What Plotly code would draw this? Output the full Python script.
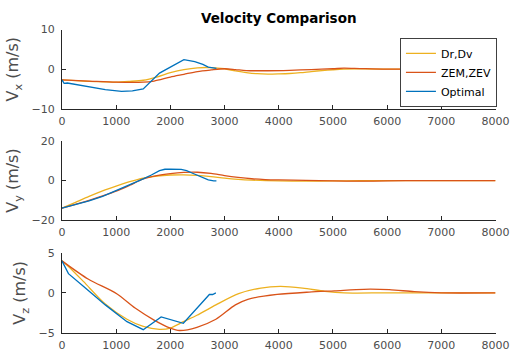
import plotly.graph_objects as go

# ---------------- data ----------------
series_names = ["Dr,Dv", "ZEM,ZEV", "Optimal"]
series_colors = ["#EDB120", "#D95319", "#0072BD"]

# Vx
t_vx_dr = [0, 250, 500, 750, 1000, 1250, 1500, 1750, 2000, 2250, 2500, 2750, 3000, 3200, 3400, 3600,
           3800, 4000, 4200, 4400, 4600, 4800, 5000, 5200, 5500, 6000, 8000]
vx_dr = [-2.7, -2.9, -3.1, -3.2, -3.3, -3.1, -2.8, -2.0, -0.9, -0.1, 0.35, 0.4, 0.1, -0.45, -0.85, -1.15,
         -1.25, -1.2, -1.1, -0.9, -0.6, -0.35, -0.15, 0.0, 0.05, 0.0, 0.0]
t_vx_zem = [0, 500, 1000, 1500, 1700, 2000, 2250, 2500, 2750, 3000, 3200, 3400, 3800, 4200, 4600,
            5000, 5200, 5500, 6000, 8000]
vx_zem = [-2.7, -3.0, -3.3, -3.3, -3.0, -2.0, -1.3, -0.6, -0.2, 0.1, -0.1, -0.35, -0.4, -0.3, -0.1,
          0.1, 0.25, 0.15, 0.0, 0.0]
t_vx_opt = [0, 40, 100, 300, 500, 800, 1100, 1300, 1500, 1650, 1800, 2000, 2250, 2450, 2600, 2700, 2800, 2850]
vx_opt = [-2.7, -3.6, -3.5, -4.0, -4.5, -5.2, -5.6, -5.5, -5.0, -3.0, -1.0, 0.5, 2.4, 1.9, 1.2, 0.5, 0.25, 0.2]

# Vy
t_vy_dr = [0, 250, 500, 750, 1000, 1250, 1500, 1750, 2000, 2250, 2500, 2750, 3000, 3250, 3500, 4000,
           4500, 5000, 5500, 6000, 8000]
vy_dr = [-14, -11, -8.0, -5.2, -2.8, -0.6, 1.2, 2.3, 2.8, 2.9, 2.6, 2.0, 1.2, 0.6, 0.2, -0.2,
         -0.3, -0.2, -0.1, 0.0, 0.0]
t_vy_zem = [0, 250, 500, 750, 1000, 1250, 1500, 1750, 2000, 2250, 2500, 2750, 3000, 3250, 3500, 3750,
            4000, 4500, 5000, 5500, 6000, 6500, 8000]
vy_zem = [-14, -12, -10, -7.8, -5.4, -2.4, 0.8, 2.5, 3.5, 4.1, 4.2, 3.6, 2.5, 1.6, 0.9, 0.5,
          0.3, 0.1, -0.2, -0.3, -0.2, 0.0, 0.0]
t_vy_opt = [0, 250, 500, 750, 1000, 1250, 1500, 1650, 1800, 1900, 2000, 2200, 2300, 2400, 2500, 2600,
            2700, 2800, 2850]
vy_opt = [-14, -12.2, -10.3, -8.0, -5.2, -2.2, 0.8, 2.8, 5.0, 5.7, 5.8, 5.6, 5.0, 3.8, 2.6, 1.4,
          0.3, -0.2, -0.2]

# Vz
t_vz_dr = [0, 120, 400, 800, 1200, 1500, 1800, 2000, 2240, 2490, 2840, 3260, 3670, 4030, 4440, 4850,
           5210, 6000, 8000]
vz_dr = [4.0, 3.3, 1.4, -1.4, -3.3, -4.2, -4.55, -4.4, -3.6, -2.8, -1.5, -0.1, 0.6, 0.8, 0.6, 0.2,
         0.0, 0.0, 0.0]
t_vz_zem = [0, 490, 1010, 1350, 1700, 2000, 2170, 2490, 2840, 3200, 3430, 3970, 4560, 5030, 5570,
            6040, 6500, 7000, 8000]
vz_zem = [4.0, 1.7, -0.1, -1.9, -3.4, -4.4, -4.7, -4.3, -3.3, -1.5, -0.8, -0.2, 0.1, 0.26, 0.45,
          0.4, 0.15, 0.0, 0.0]
t_vz_opt = [0, 120, 400, 800, 1200, 1500, 1830, 2240, 2720, 2780, 2840]
vz_opt = [4.0, 2.4, 0.8, -1.5, -3.6, -4.6, -3.0, -3.8, -0.2, -0.2, 0.0]

x_ticks = [0, 1000, 2000, 3000, 4000, 5000, 6000, 7000, 8000]
y_titles = ["V<sub>x</sub> (m/s)", "V<sub>y</sub> (m/s)", "V<sub>z</sub> (m/s)"]
y_ranges = [[-10, 10], [-20, 20], [-5, 5]]
y_ticks = [[-10, 0, 10], [-20, 0, 20], [-5, 0, 5]]
title_text = "Velocity Comparison"

# ---------------- layout helpers ----------------
W, H = 525, 364
x_dom = [60 / W, 509 / W]
rows_px = [(24.5, 106.5), (140, 222), (256, 339)]

panels = [
    [(t_vx_dr, vx_dr), (t_vx_zem, vx_zem), (t_vx_opt, vx_opt)],
    [(t_vy_dr, vy_dr), (t_vy_zem, vy_zem), (t_vy_opt, vy_opt)],
    [(t_vz_dr, vz_dr), (t_vz_zem, vz_zem), (t_vz_opt, vz_opt)],
]

FONT = "DejaVu Sans"
AX = "#262626"
TXT = "#4d4d4d"

fig = go.Figure()
for r, panel in enumerate(panels):
    xa = "x" if r == 0 else f"x{r+1}"
    ya = "y" if r == 0 else f"y{r+1}"
    for s, (tt, vv) in enumerate(panel):
        fig.add_trace(go.Scatter(
            x=tt, y=vv, mode="lines", name=series_names[s],
            xaxis=xa, yaxis=ya,
            line=dict(color=series_colors[s], width=1.3,
                      shape="linear" if s == 2 else "spline",
                      smoothing=0.8 if s != 2 else None),
            showlegend=(r == 0),
        ))
    top, bot = rows_px[r]
    axis_common = dict(showline=True, linecolor=AX, linewidth=1, ticks="inside",
                       ticklen=4, tickcolor=AX, showgrid=False, zeroline=False,
                       mirror=False, tickfont=dict(family=FONT, size=11, color=TXT))
    fig.layout[("xaxis" if r == 0 else f"xaxis{r+1}")] = dict(
        domain=x_dom, range=[0, 8000], tickvals=x_ticks, anchor=ya,
        ticklabelstandoff=2, **axis_common)
    fig.layout[("yaxis" if r == 0 else f"yaxis{r+1}")] = dict(
        domain=[1 - bot / H, 1 - top / H], range=y_ranges[r], tickvals=y_ticks[r],
        anchor=xa, ticklabelstandoff=4,
        title=dict(text=y_titles[r], standoff=8,
                   font=dict(family=FONT, size=16, color=TXT)),
        **axis_common)

fig.update_layout(
    width=W, height=H, margin=dict(l=0, r=0, t=0, b=0),
    paper_bgcolor="white", plot_bgcolor="white",
    title=dict(text="<b>" + title_text + "</b>", x=284.5 / W, y=1 - 13 / H,
               xanchor="center", yanchor="middle", xref="paper", yref="paper",
               font=dict(family=FONT, size=13.5, color="#000000")),
    legend=dict(x=410 / W, y=1 - 33 / H, xanchor="left", yanchor="top",
                bgcolor="white", bordercolor="#404040", borderwidth=1,
                font=dict(family=FONT, size=11, color="#000000"),
                tracegroupgap=0, itemwidth=30),
)

fig.write_html("out.html")
